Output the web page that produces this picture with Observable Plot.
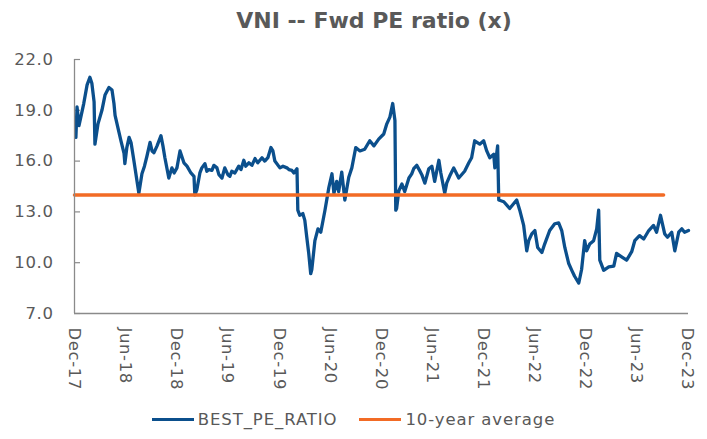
<!DOCTYPE html>
<html>
<head>
<meta charset="utf-8">
<script src="https://cdn.jsdelivr.net/npm/d3@7"></script>
<script src="https://cdn.jsdelivr.net/npm/@observablehq/plot@0.6"></script>
<style>
  html, body { margin: 0; padding: 0; background: #ffffff; }
  #wrap { width: 707px; height: 439px; position: relative; overflow: hidden;
          font-family: "DejaVu Sans", sans-serif; color: #595959; }
  #title { height: 40px; box-sizing: border-box; padding-top: 9px; padding-left: 41px;
           text-align: center; font-weight: bold; font-size: 22px; line-height: 24px; color: #595959; }
  #chart svg text { letter-spacing: 0.6px; }
  #legend { position: absolute; top: 401px; left: 0; width: 707px; height: 39px;
            display: flex; justify-content: center; align-items: center; padding-bottom: 2px; box-sizing: border-box;
            font-size: 16.5px; letter-spacing: 0.9px; color: #595959; }
  .item { display: flex; align-items: center; margin: 0 11px; }
  .sw { display: inline-block; width: 42px; height: 3px; margin-right: 4px; }
</style>
</head>
<body>
<div id="wrap">
  <div id="title"></div>
  <div id="chart"></div>
  <div id="legend"></div>
</div>
<script>
const titleText = "VNI -- Fwd PE ratio (x)";
const seriesNames = ["BEST_PE_RATIO", "10-year average"];
const seriesColors = ["#0b4f8c", "#f26b25"];

// BEST_PE_RATIO, one small array pair per year
const dates2018 = [
  "2017-12-06","2017-12-10","2017-12-17","2018-01-03","2018-01-15","2018-01-25","2018-02-01","2018-02-09",
  "2018-02-12","2018-02-23","2018-03-09","2018-03-20","2018-04-03","2018-04-14","2018-04-21","2018-04-25",
  "2018-05-09","2018-05-16","2018-05-27","2018-05-30","2018-06-06","2018-06-14","2018-06-21","2018-07-01",
  "2018-07-12","2018-07-19","2018-07-30","2018-08-08","2018-08-17","2018-08-28","2018-09-04","2018-09-11",
  "2018-09-22","2018-10-06","2018-10-13","2018-10-20","2018-11-03","2018-11-14","2018-11-22","2018-12-02",
  "2018-12-13","2018-12-27"
];
const values2018 = [
  17.4, 19.2, 18.1, 19.4, 20.5, 20.95, 20.6, 19.5,
  17.0, 18.2, 19.0, 19.9, 20.35, 20.2, 19.4, 18.7,
  17.7, 17.2, 16.45, 15.85, 16.8, 17.4, 17.1, 16.05,
  14.85, 14.1, 15.25, 15.7, 16.3, 17.1, 16.6, 16.5,
  16.9, 17.5, 16.9, 16.2, 15.0, 15.6, 15.3, 15.6,
  16.6, 15.9
];
const dates2019 = [
  "2019-01-07","2019-01-21","2019-02-01","2019-02-04","2019-02-11","2019-02-22","2019-03-01","2019-03-12",
  "2019-03-19","2019-03-26","2019-04-06","2019-04-13","2019-04-24","2019-05-01","2019-05-12","2019-05-22",
  "2019-06-02","2019-06-09","2019-06-16","2019-06-27","2019-07-11","2019-07-19","2019-07-29","2019-08-05",
  "2019-08-16","2019-08-27","2019-09-07","2019-09-17","2019-10-02","2019-10-12","2019-10-23","2019-11-03",
  "2019-11-10","2019-11-17","2019-12-05","2019-12-16","2019-12-30"
];
const values2019 = [
  15.7, 15.3, 15.1, 14.0, 14.3, 15.3, 15.6, 15.85,
  15.4, 15.5, 15.45, 15.75, 15.6, 15.2, 15.0, 15.6,
  15.2, 15.1, 15.4, 15.3, 15.7, 15.5, 16.05, 15.7,
  15.9, 15.75, 16.15, 15.9, 16.2, 16.0, 16.2, 16.8,
  16.6, 16.0, 15.6, 15.7, 15.6
];
const dates2020 = [
  "2020-01-06","2020-01-17","2020-01-24","2020-02-04","2020-02-07","2020-02-14","2020-02-25","2020-03-03",
  "2020-03-10","2020-03-17","2020-03-24","2020-03-28","2020-04-08","2020-04-19","2020-04-29","2020-05-14",
  "2020-05-28","2020-06-08","2020-06-15","2020-06-25","2020-07-02","2020-07-13","2020-07-24","2020-08-07",
  "2020-08-18","2020-09-01","2020-09-16","2020-10-03","2020-10-21","2020-11-05","2020-11-22","2020-12-10",
  "2020-12-21"
];
const values2020 = [
  15.5, 15.45, 15.3, 15.55, 13.1, 12.8, 12.9, 12.5,
  11.5, 10.55, 9.35, 9.6, 11.3, 12.0, 11.8, 13.1,
  14.45, 15.25, 14.1, 14.8, 14.2, 15.35, 13.7, 15.05,
  15.6, 16.8, 16.6, 16.7, 17.2, 16.9, 17.3, 17.6,
  18.2
];
const dates2021 = [
  "2021-01-01","2021-01-11","2021-01-19","2021-01-22","2021-01-25","2021-02-02","2021-02-13","2021-02-23",
  "2021-03-10","2021-03-20","2021-03-27","2021-04-07","2021-04-17","2021-04-25","2021-05-06","2021-05-20",
  "2021-05-31","2021-06-10","2021-06-25","2021-07-02","2021-07-16","2021-07-23","2021-08-05","2021-08-17",
  "2021-09-04","2021-09-25","2021-10-10","2021-10-20","2021-10-31","2021-11-18","2021-12-02","2021-12-13",
  "2021-12-24"
];
const values2021 = [
  18.6, 19.4, 18.4, 13.1, 13.2, 14.25, 14.65, 14.2,
  15.0, 15.25, 15.55, 15.75, 15.45, 15.2, 14.7, 15.55,
  15.7, 14.8, 16.05, 15.3, 14.1, 14.7, 15.2, 15.6,
  15.0, 15.4, 15.9, 16.2, 17.2, 17.0, 17.2, 16.6,
  16.2
];
const dates2022 = [
  "2022-01-07","2022-01-11","2022-01-21","2022-01-25","2022-02-12","2022-03-05","2022-03-30","2022-04-10",
  "2022-04-24","2022-05-05","2022-05-12","2022-05-23","2022-06-03","2022-06-13","2022-06-28","2022-07-08",
  "2022-07-26","2022-08-13","2022-08-27","2022-09-07","2022-09-18","2022-10-02","2022-10-13","2022-10-23",
  "2022-11-07","2022-11-17","2022-11-28","2022-12-05","2022-12-16","2022-12-30"
];
const values2022 = [
  16.4, 15.6, 16.9, 13.7, 13.6, 13.2, 13.7, 13.1,
  12.2, 10.7, 11.3, 11.7, 11.9, 10.9, 10.6, 11.1,
  11.9, 12.3, 12.35, 11.9, 10.9, 9.95, 9.55, 9.2,
  8.8, 9.6, 11.3, 10.7, 11.1, 11.3
];
const dates2023 = [
  "2023-01-10","2023-01-17","2023-01-21","2023-02-04","2023-02-22","2023-03-12","2023-03-22","2023-04-09",
  "2023-04-27","2023-05-15","2023-05-26","2023-06-12","2023-06-27","2023-07-15","2023-08-01","2023-08-12",
  "2023-08-26","2023-09-10","2023-09-20","2023-10-05","2023-10-16","2023-10-30","2023-11-10","2023-11-20",
  "2023-12-04"
];
const values2023 = [
  12.0, 13.1, 10.15, 9.55, 9.75, 9.8, 10.55, 10.35,
  10.15, 10.65, 11.3, 11.6, 11.4, 11.9, 12.2, 11.8,
  12.8, 11.7, 11.5, 11.8, 10.7, 11.8, 12.0, 11.8,
  11.9
];

const avgDates = ["2017-12-01", "2023-09-06"];
const avgValues = [14.0, 14.0];

const xDomain = ["2017-12-01", "2023-12-04"];
const yDomain = [7, 22];
const yTicks = [7, 10, 13, 16, 19, 22];
const xTickDates = ["2017-12-01","2018-06-01","2018-12-01","2019-06-01","2019-12-01","2020-06-01",
                    "2020-12-01","2021-06-01","2021-12-01","2022-06-01","2022-12-01","2023-06-01","2023-12-01"];
const xTickLabels = ["Dec-17","Jun-18","Dec-18","Jun-19","Dec-19","Jun-20",
                     "Dec-20","Jun-21","Dec-21","Jun-22","Dec-22","Jun-23","Dec-23"];

const peDates = [].concat(dates2018, dates2019, dates2020, dates2021, dates2022, dates2023);
const peValues = [].concat(values2018, values2019, values2020, values2021, values2022, values2023);
const pe = peDates.map((d, i) => ({date: new Date(d), value: peValues[i]}));
const avg = avgDates.map((d, i) => ({date: new Date(d), value: avgValues[i]}));

const W = 707, H = 360, mL = 74, mR = 19, mT = 19, mB = 87;
const axisColor = "#8a8a8a";

document.getElementById("title").textContent = titleText;

const chart = Plot.plot({
  width: W, height: H,
  marginTop: mT, marginBottom: mB, marginLeft: mL, marginRight: mR,
  style: {fontFamily: '"DejaVu Sans", sans-serif', color: "#595959", background: "transparent", overflow: "visible"},
  x: {type: "utc", domain: xDomain.map(d => new Date(d))},
  y: {domain: yDomain},
  marks: [
    Plot.axisY({ticks: yTicks, tickFormat: d => d.toFixed(1), tickSize: 0, tickPadding: 21, fontSize: 16.5, label: null}),
    Plot.ruleY(yTicks, {stroke: axisColor, strokeWidth: 1.2, insetRight: W - mL - mR - 6}),
    Plot.axisX({ticks: xTickDates.map(d => new Date(d)), tickFormat: (d, i) => xTickLabels[i],
                tickRotate: 90, tickSize: 0, tickPadding: 14, fontSize: 16.5, label: null}),
    Plot.lineY(pe, {x: "date", y: "value", stroke: seriesColors[0], strokeWidth: 3.3, strokeLinejoin: "round"}),
    Plot.lineY(avg, {x: "date", y: "value", stroke: seriesColors[1], strokeWidth: 3.5}),
    Plot.ruleX([new Date(xDomain[0])], {stroke: axisColor, strokeWidth: 1.3}),
    Plot.ruleY([yDomain[0]], {stroke: axisColor, strokeWidth: 1.3})
  ]
});
document.getElementById("chart").appendChild(chart);

const legend = document.getElementById("legend");
seriesNames.forEach((name, i) => {
  const item = document.createElement("div");
  item.className = "item";
  const sw = document.createElement("span");
  sw.className = "sw";
  sw.style.background = seriesColors[i];
  const label = document.createElement("span");
  label.textContent = name;
  item.appendChild(sw);
  item.appendChild(label);
  legend.appendChild(item);
});
</script>
</body>
</html>
